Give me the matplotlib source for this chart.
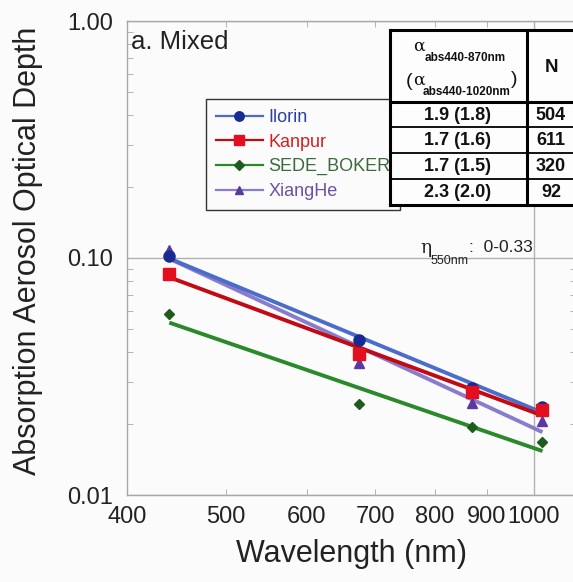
import numpy as np
import matplotlib.pyplot as plt
from matplotlib.lines import Line2D
from matplotlib.patches import Rectangle
from matplotlib.ticker import FixedLocator, NullFormatter

plt.rcParams['font.family'] = ['Liberation Sans', 'DejaVu Sans']

# Wavelengths (nm) and absorption AOD per site
wavelengths = [440, 675, 870, 1020]
ilorin = [0.102, 0.045, 0.0282, 0.0235]
kanpur = [0.0858, 0.0395, 0.0271, 0.0228]
sede_boker = [0.0578, 0.0241, 0.0193, 0.0167]
xianghe = [0.108, 0.036, 0.0245, 0.0205]

site_names = ["Ilorin", "Kanpur", "SEDE_BOKER", "XiangHe"]
alpha_labels = ["1.9 (1.8)", "1.7 (1.6)", "1.7 (1.5)", "2.3 (2.0)"]
n_labels = ["504", "611", "320", "92"]

x_tick_values = [400, 500, 600, 700, 800, 900]
y_tick_values = [0.01, 0.1, 1.0]
y_tick_labels = ["0.01", "0.10", "1.00"]

# styling per site: (line colour, marker colour, marker, marker size, text colour)
styles = {
    "Ilorin": ("#4a6ccb", "#1a2a92", "o", 8.0, "#2a40a8"),
    "Kanpur": ("#c20a14", "#e2101e", "s", 8.5, "#d42020"),
    "SEDE_BOKER": ("#2a8a2a", "#1f5a1f", "D", 5.5, "#3a6a3a"),
    "XiangHe": ("#8a7ccc", "#5a3aa2", "^", 7.5, "#6a50aa"),
}
series = {"Ilorin": ilorin, "Kanpur": kanpur, "SEDE_BOKER": sede_boker, "XiangHe": xianghe}

W, H = 573, 582
fig = plt.figure(figsize=(W / 100, H / 100), dpi=100, facecolor="#fbfbfb")
ax = fig.add_axes([127 / W, 87 / H, 449 / W, 474 / H], facecolor="#fbfbfb")
ax.set_xscale("log")
ax.set_yscale("log")
ax.set_xlim(400, 1100)
ax.set_ylim(0.01, 1.0)

wl = np.array(wavelengths)
# power-law fit lines first, then the markers on top
line_order = ["SEDE_BOKER", "XiangHe", "Ilorin", "Kanpur"]
for name in line_order:
    vals = np.array(series[name])
    slope, icpt = np.polyfit(np.log10(wl), np.log10(vals), 1)
    fit = 10 ** (icpt + slope * np.log10(wl))
    ax.plot(wl, fit, color=styles[name][0], lw=2.8, solid_capstyle="butt", zorder=3)

marker_order = ["XiangHe", "Ilorin", "Kanpur", "SEDE_BOKER"]
for name in marker_order:
    lc, mc, mk, ms, tc = styles[name]
    ax.plot(wl, series[name], ls="none", marker=mk, ms=ms, color=mc,
            markeredgecolor=mc, zorder=4)

# axes styling
for side in ["left", "bottom", "top", "right"]:
    ax.spines[side].set_color("#a8a8a8")
    ax.spines[side].set_linewidth(1.0)

ax.xaxis.set_major_locator(FixedLocator([1000]))
ax.set_xticklabels(["1000"])
ax.xaxis.set_minor_locator(FixedLocator(x_tick_values))
ax.set_xticklabels([str(v) for v in x_tick_values], minor=True)
ax.yaxis.set_major_locator(FixedLocator(y_tick_values))
ax.set_yticklabels(y_tick_labels)
ax.yaxis.set_minor_locator(FixedLocator(
    [k * 0.01 for k in range(2, 10)] + [k * 0.1 for k in range(2, 10)]))
ax.yaxis.set_minor_formatter(NullFormatter())

ax.tick_params(which="both", direction="in", color="#a8a8a8", top=True, right=True,
               labelsize=17, labelcolor="#222222")
ax.tick_params(which="major", length=0)
ax.tick_params(which="minor", length=4)
ax.tick_params(axis="y", which="both", pad=10)
ax.tick_params(axis="x", which="both", pad=8)
ax.grid(True, which="major", color="#b0b0b0", lw=1.0)

ax.set_xlabel("Wavelength (nm)", fontsize=22, color="#222222", labelpad=8)
ax.set_ylabel("Absorption Aerosol Optical Depth", fontsize=22, color="#222222")
ax.yaxis.set_label_coords(-84 / 449, 0.515)

# overlay in pixel coordinates for the annotations and the table
ov = fig.add_axes([0, 0, 1, 1], facecolor="none")
ov.set_xlim(0, W)
ov.set_ylim(H, 0)
ov.axis("off")

ov.text(131, 42, "a. Mixed", fontsize=18.5, color="#222222", va="center", ha="left")

# eta annotation
ov.text(420, 248, "η", fontsize=13.5, color="#222222", va="center", ha="left", family="DejaVu Serif")
ov.text(431, 261, "550nm", fontsize=9, color="#222222", va="center", ha="left")
ov.text(469, 247, ":  0-0.33", fontsize=12.5, color="#222222", va="center", ha="left")

# legend (handles drawn by the library)
handles = []
for name in site_names:
    lc, mc, mk, ms, tc = styles[name]
    handles.append(Line2D([], [], color=lc, lw=1.6, marker=mk, ms=ms * 0.85,
                          markerfacecolor=mc, markeredgecolor=mc))
leg = ov.legend(handles, site_names, loc="upper left",
                bbox_to_anchor=(206 / W, 1 - 99 / H), bbox_transform=fig.transFigure,
                fontsize=13, frameon=True, fancybox=False, edgecolor="#333333",
                facecolor="#fbfbfb", framealpha=1, handlelength=2.6,
                handletextpad=0.3, labelspacing=0.42, borderpad=0.55,
                borderaxespad=0)
leg.set_zorder(4)
leg.get_frame().set_linewidth(1.0)
for txt, name in zip(leg.get_texts(), site_names):
    txt.set_color(styles[name][4])

# table
tx0, tx1, tcol = 390, 600, 527
ty0, thead = 30, 102
row_edges = [102, 127, 153, 179, 205]
ov.add_patch(Rectangle((tx0, ty0), tx1 - tx0, row_edges[-1] - ty0,
                       facecolor="#fdfdfd", edgecolor="none", zorder=10))
ov.plot([tx0, tx1], [ty0, ty0], color="black", lw=2.2, zorder=11)
ov.plot([tx0, tx1], [row_edges[-1], row_edges[-1]], color="black", lw=2.2, zorder=11)
ov.plot([tx0, tx0], [ty0, row_edges[-1]], color="black", lw=2.2, zorder=11)
ov.plot([tcol, tcol], [ty0, row_edges[-1]], color="black", lw=2.2, zorder=11)
ov.plot([tx0, tx1], [thead, thead], color="black", lw=2.2, zorder=11)
for y in row_edges[1:-1]:
    ov.plot([tx0, tx1], [y, y], color="black", lw=1.3, zorder=11)

hdr = dict(color="#111111", zorder=12, va="center")
ov.text(419, 46, "α", fontsize=12.5, ha="center", family="DejaVu Serif", **hdr)
ov.text(465, 58, "abs440-870nm", fontsize=8.5, fontweight="bold", ha="center", **hdr)
ov.text(409, 81, "(", fontsize=14, ha="center", **hdr)
ov.text(419, 80, "α", fontsize=12.5, ha="center", family="DejaVu Serif", **hdr)
ov.text(467, 92, "abs440-1020nm", fontsize=8.5, fontweight="bold", ha="center", **hdr)
ov.text(514, 79, ")", fontsize=14, ha="center", **hdr)
ov.text(551, 67, "N", fontsize=13.5, fontweight="bold", ha="center", **hdr)

for i, (a_lab, n_lab) in enumerate(zip(alpha_labels, n_labels)):
    yc = (row_edges[i] + row_edges[i + 1]) / 2 + 0.5
    ov.text(458, yc, a_lab, fontsize=13, fontweight="bold", ha="center", **hdr)
    ov.text(551, yc, n_lab, fontsize=13, fontweight="bold", ha="center", **hdr)

fig.savefig("out.png", dpi=100, facecolor=fig.get_facecolor())
